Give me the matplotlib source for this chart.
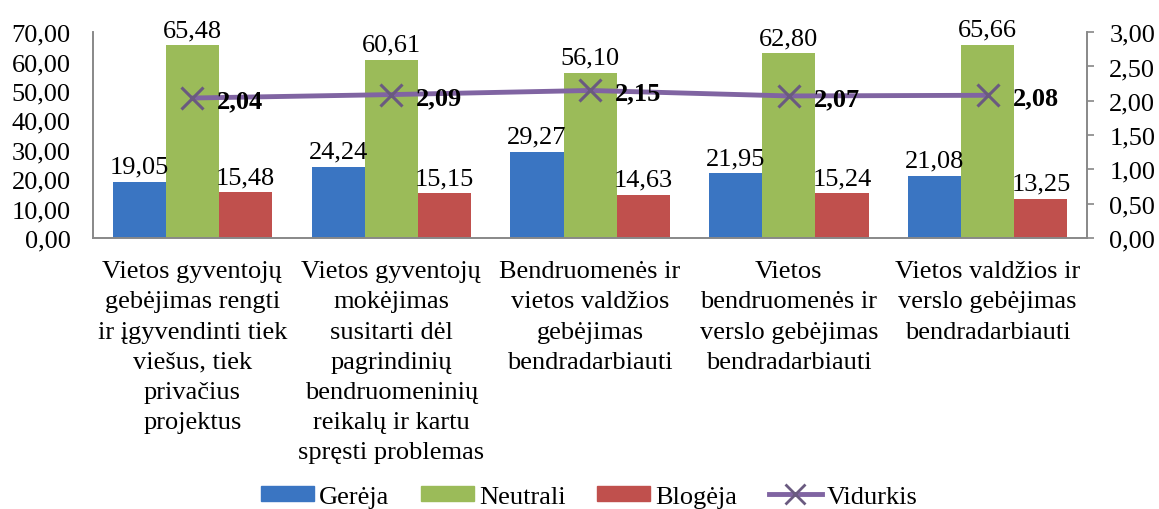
import matplotlib
matplotlib.use("Agg")
import matplotlib.pyplot as plt
import numpy as np
from matplotlib.ticker import FuncFormatter
from matplotlib.lines import Line2D
from matplotlib.patches import Patch

categories = [
    "Vietos gyventojų\ngebėjimas rengti\nir įgyvendinti tiek\nviešus, tiek\nprivačius\nprojektus",
    "Vietos gyventojų\nmokėjimas\nsusitarti dėl\npagrindinių\nbendruomeninių\nreikalų ir kartu\nspręsti problemas",
    "Bendruomenės ir\nvietos valdžios\ngebėjimas\nbendradarbiauti",
    "Vietos\nbendruomenės ir\nverslo gebėjimas\nbendradarbiauti",
    "Vietos valdžios ir\nverslo gebėjimas\nbendradarbiauti",
]
gereja = [19.05, 24.24, 29.27, 21.95, 21.08]
neutrali = [65.48, 60.61, 56.10, 62.80, 65.66]
blogeja = [15.48, 15.15, 14.63, 15.24, 13.25]
vidurkis = [2.04, 2.09, 2.15, 2.07, 2.08]

plt.rcParams['font.family'] = ['Liberation Serif', 'DejaVu Serif']
FS = 19

fig = plt.figure(figsize=(11.59, 5.10), dpi=100)
ax = fig.add_axes([0.0802, 0.5314, 0.8578, 0.4036])
ax2 = ax.twinx()

x = np.arange(len(categories))
w = 0.267
cols = ['#3a75c2', '#9bbb59', '#c0504d']
series = [gereja, neutrali, blogeja]
names = ['Gerėja', 'Neutrali', 'Blogėja']
for i, (s, c) in enumerate(zip(series, cols)):
    pos = x + (i - 1) * w
    ax.bar(pos, s, w, color=c, zorder=2)
    for p, v in zip(pos, s):
        ax.annotate(f"{v:.2f}".replace('.', ','), (p, v), xytext=(0, 3),
                    textcoords='offset points', ha='center', va='bottom', fontsize=FS)

purple = '#8064a2'
ax2.plot(x, vidurkis, color=purple, lw=3.5, marker='x', markersize=16,
         markeredgewidth=2.2, markeredgecolor='#6a5a80', zorder=3)
for xi, v in zip(x, vidurkis):
    ax2.annotate(f"{v:.2f}".replace('.', ','), (xi, v), xytext=(18, -2),
                 textcoords='offset points', ha='left', va='center',
                 fontsize=FS, fontweight='bold')

ax.set_xlim(-0.5, len(categories) - 0.5)
ax.set_ylim(0, 70)
ax.set_yticks(np.arange(0, 71, 10))
ax2.set_ylim(0, 3)
ax2.set_yticks(np.arange(0, 3.01, 0.5))
fmt = FuncFormatter(lambda v, p: f"{v:.2f}".replace('.', ','))
ax.yaxis.set_major_formatter(fmt)
ax2.yaxis.set_major_formatter(fmt)

ax.set_xticks(x)
ax.set_xticklabels(categories, fontsize=FS, linespacing=1.48)
ax.tick_params(axis='x', length=0, pad=16)
ax.tick_params(axis='y', length=0, labelsize=FS, pad=16)
ax2.tick_params(axis='y', length=5, width=1.2, color='#888888', labelsize=FS, pad=11)

for a in (ax, ax2):
    a.spines['top'].set_visible(False)
    for sp in ('left', 'right', 'bottom'):
        a.spines[sp].set_color('#888888')
        a.spines[sp].set_linewidth(1.2)

handles = [Patch(color=c) for c in cols] + [
    Line2D([], [], color=purple, lw=3.5, marker='x', markersize=14,
           markeredgewidth=2, markeredgecolor='#6a5a80')]
fig.legend(handles, names + ['Vidurkis'], loc='center', bbox_to_anchor=(0.5086, 0.024),
           ncol=4, frameon=False, fontsize=FS, handlelength=2.0, handleheight=0.5,
           columnspacing=1.2, handletextpad=0.2, borderpad=0)

fig.savefig('out.png', dpi=100)
